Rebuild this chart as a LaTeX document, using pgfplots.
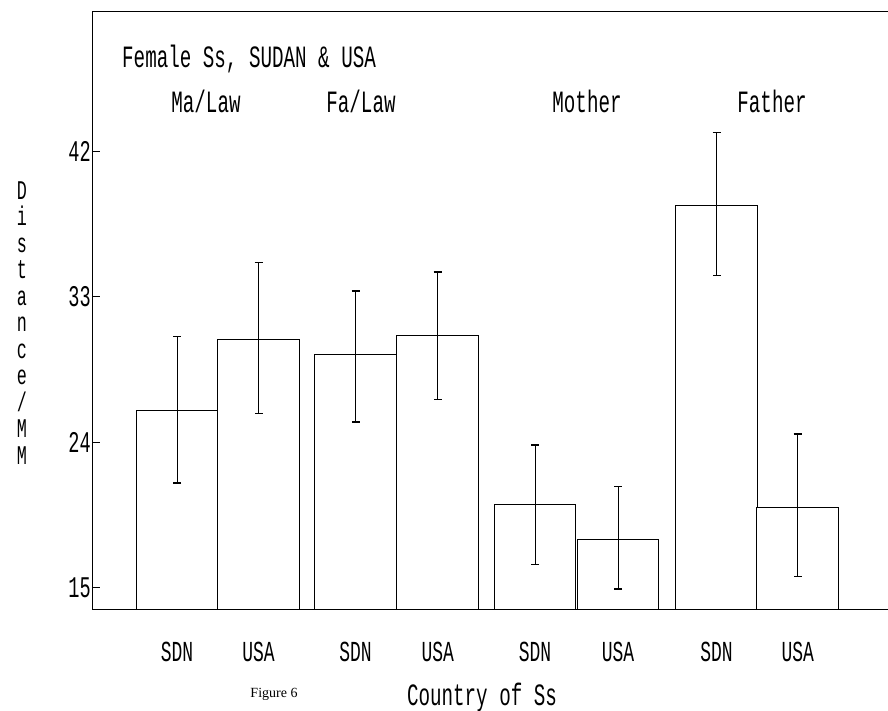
\documentclass[border=0pt]{standalone}
\usepackage{pgfplots}
\pgfplotsset{compat=1.18}
\usepackage{fontspec}
\newfontfamily\dm[FakeStretch=0.62]{Liberation Mono}
\newfontfamily\fig{Liberation Serif}
\begin{document}
\begin{tikzpicture}[x=1pt,y=1pt]
\useasboundingbox (0,0) rectangle (888,711);
\begin{axis}[at={(92pt,101pt)},anchor=south west,scale only axis,
  width=800pt,height=598pt,xmin=92,xmax=892,ymin=13.64,ymax=50.59,
  axis line style={line width=1pt},
  ytick={15,24,33,42},yticklabels={15,24,33,42},ytick pos=left,
  tick align=inside,major tick length=8pt,tick style={line width=1pt,black},
  yticklabel style={font=\dm\fontsize{30}{30}\selectfont,inner sep=1pt},
  xtick={177,258.5,355.5,437.7,535,618,716.5,797.7},
  xticklabels={SDN,USA,SDN,USA,SDN,USA,SDN,USA},
  xtick style={draw=none},
  xticklabel style={font=\dm\fontsize{29}{29}\selectfont,anchor=center,yshift=-34pt},
  ybar,bar width=81.5,
  error bars/y dir=both,error bars/y explicit,
  error bars/error bar style={line width=1pt},
  error bars/error mark options={rotate=90,mark size=4pt,line width=1.5pt}]
% SDN
\addplot[bar shift=0pt,fill=white,draw=black,line width=1pt] coordinates {
  (177,25.97) += (0,4.56) -= (0,4.48)
  (355.5,29.40) += (0,3.95) -= (0,4.13)
  (535,20.13) += (0,3.71) -= (0,3.67)
  (716.5,38.62) += (0,4.51) -= (0,4.30)};
% USA
\addplot[bar shift=0pt,fill=white,draw=black,line width=1pt] coordinates {
  (258.5,30.37) += (0,4.73) -= (0,4.58)
  (437.7,30.57) += (0,3.94) -= (0,3.91)
  (618,18.01) += (0,3.25) -= (0,3.07)
  (797.7,19.99) += (0,4.52) -= (0,4.29)};
\end{axis}
\node[anchor=west,font=\dm\fontsize{31}{31}\selectfont,inner sep=0pt] at (122,652) {Female Ss, SUDAN \& USA};
\begin{scope}[every node/.style={font=\dm\fontsize{31}{31}\selectfont,inner sep=0pt}]
\node at (206,610) {Ma/Law};
\node at (361,610) {Fa/Law};
\node at (587,610) {Mother};
\node at (772,610) {Father};
\node at (482,14) {Country of Ss};
\end{scope}
\node[font=\dm\fontsize{27}{26.5}\selectfont,align=center,inner sep=0pt] at (22,388) {D\\i\\s\\t\\a\\n\\c\\e\\/\\M\\M};
\node[font=\fig\fontsize{14}{14}\selectfont,inner sep=0pt] at (274,17) {Figure 6};
\end{tikzpicture}
\end{document}
